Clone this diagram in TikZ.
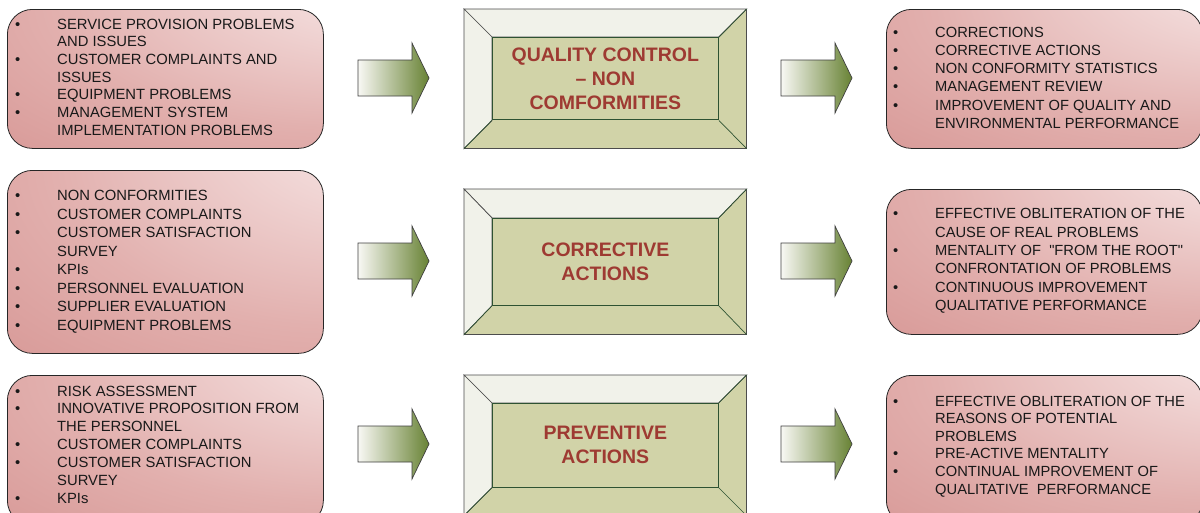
\documentclass[tikz,border=0pt]{standalone}
\usepackage{fontspec}
\setmainfont{Liberation Sans}[Ligatures=TeXOff]
\definecolor{pinkdark}{RGB}{210,140,138}
\definecolor{pinkmid}{RGB}{226,176,174}
\definecolor{pinklight}{RGB}{253,246,246}
\definecolor{khaki}{RGB}{209,211,168}
\definecolor{bevellight}{RGB}{241,242,234}
\definecolor{innergreen}{RGB}{46,82,50}
\definecolor{titlered}{RGB}{158,58,50}
\definecolor{arrowgreen}{RGB}{104,130,52}
\definecolor{arrowlight}{RGB}{248,248,244}
\pgfdeclareradialshading{pinkshade}{\pgfpoint{42bp}{42bp}}{color(0bp)=(pinklight); color(12bp)=(pinklight!70!pinkmid); color(45bp)=(pinkmid); color(80bp)=(pinkdark); color(130bp)=(pinkdark)}
\newcommand{\itembul}{\leavevmode\llap{\textbullet\hspace{37pt}}}
\tikzset{
  listbox/.style={draw=black!85, line width=0.8pt, rounded corners=25pt, shade, shading=pinkshade, anchor=north west, inner sep=0pt},
  listtext/.style={anchor=north west, inner sep=0pt, align=left, text=black!90},
  bevelout/.style={draw=black!70, line width=0.7pt, fill=khaki, anchor=north west, inner sep=0pt},
  lightface/.style={fill=bevellight, draw=black!70, line width=0.7pt},
  diag/.style={draw=innergreen, line width=0.7pt},
  bevelin/.style={draw=innergreen, line width=1.2pt, fill=khaki, inner sep=0pt, align=center, font=\bfseries\fontsize{19.5}{24}\selectfont, text=titlered},
  blockarrow/.style={draw=black!75, line width=0.7pt, left color=arrowlight, middle color=arrowgreen!45!arrowlight, right color=arrowgreen},
  blockarr/.pic={\path[blockarrow] (0,-18) -- (54,-18) -- (54,-35) -- (71,0) -- (54,35) -- (54,18) -- (0,18) -- cycle;}
}
\begin{document}
\begin{tikzpicture}[x=1pt,y=-1pt]
\useasboundingbox (0,0) rectangle (1200,512);
\clip (0,0) rectangle (1200,512);
\fill[white] (0,0) rectangle (1200,512);

% ---------- left boxes ----------
\node[listbox, minimum width=316, minimum height=139] (L1) at (7,9) {};
\node[listtext, font=\fontsize{14.8}{17.67}\selectfont] (L1t) at (57,18.7) {\itembul SERVICE PROVISION PROBLEMS\\AND ISSUES\\\itembul CUSTOMER COMPLAINTS AND\\ISSUES\\\itembul EQUIPMENT PROBLEMS\\\itembul MANAGEMENT SYSTEM\\IMPLEMENTATION PROBLEMS};

\node[listbox, minimum width=316, minimum height=183] (L2) at (7,170) {};
\node[listtext, font=\fontsize{14.8}{18.53}\selectfont] (L2t) at (57,190.0) {\itembul NON CONFORMITIES\\\itembul CUSTOMER COMPLAINTS\\\itembul CUSTOMER SATISFACTION\\SURVEY\\\itembul KPIs\\\itembul PERSONNEL EVALUATION\\\itembul SUPPLIER EVALUATION\\\itembul EQUIPMENT PROBLEMS};

\node[listbox, minimum width=316, minimum height=150] (L3) at (7,375) {};
\node[listtext, font=\fontsize{14.8}{17.9}\selectfont] (L3t) at (57,385.5) {\itembul RISK ASSESSMENT\\\itembul INNOVATIVE PROPOSITION FROM\\THE PERSONNEL\\\itembul CUSTOMER COMPLAINTS\\\itembul CUSTOMER SATISFACTION\\SURVEY\\\itembul KPIs};

% ---------- right boxes ----------
\node[listbox, minimum width=316, minimum height=139] (R1) at (886,9) {};
\node[listtext, font=\fontsize{14.7}{18.2}\selectfont] (R1t) at (935,26.9) {\itembul CORRECTIONS\\\itembul CORRECTIVE ACTIONS\\\itembul NON CONFORMITY STATISTICS\\\itembul MANAGEMENT REVIEW\\\itembul IMPROVEMENT OF QUALITY AND\\ENVIRONMENTAL PERFORMANCE};

\node[listbox, minimum width=316, minimum height=145] (R2) at (886,189) {};
\node[listtext, font=\fontsize{14.7}{18.33}\selectfont] (R2t) at (935,208.5) {\itembul EFFECTIVE OBLITERATION OF THE\\CAUSE OF REAL PROBLEMS\\\itembul MENTALITY OF\ \ "FROM THE ROOT"\\CONFRONTATION OF PROBLEMS\\\itembul CONTINUOUS IMPROVEMENT\\QUALITATIVE PERFORMANCE};

\node[listbox, minimum width=316, minimum height=150] (R3) at (886,375) {};
\node[listtext, font=\fontsize{14.7}{17.53}\selectfont] (R3t) at (935,395.9) {\itembul EFFECTIVE OBLITERATION OF THE\\REASONS OF POTENTIAL\\PROBLEMS\\\itembul PRE-ACTIVE MENTALITY\\\itembul CONTINUAL IMPROVEMENT OF\\QUALITATIVE\ \ PERFORMANCE};

% ---------- centre bevelled boxes ----------
% row 1
\node[bevelout, minimum width=282, minimum height=139] (C1o) at (464,9) {};
\path[lightface] (C1o.north west) -- (C1o.north east) -- ([shift={(-28,28)}]C1o.north east) -- ([shift={(28,28)}]C1o.north west) -- cycle;
\path[lightface] (C1o.north west) -- ([shift={(28,28)}]C1o.north west) -- ([shift={(28,-28)}]C1o.south west) -- (C1o.south west) -- cycle;
\node[bevelin, minimum width=226, minimum height=82] (C1) at (C1o.center) {QUALITY CONTROL\\– NON\\COMFORMITIES};
\draw[diag] (C1o.north east) -- (C1.north east);
\draw[diag] (C1o.south east) -- (C1.south east);
\draw[diag] (C1o.south west) -- (C1.south west);

% row 2
\node[bevelout, minimum width=282, minimum height=145] (C2o) at (464,189) {};
\path[lightface] (C2o.north west) -- (C2o.north east) -- ([shift={(-28,29)}]C2o.north east) -- ([shift={(28,29)}]C2o.north west) -- cycle;
\path[lightface] (C2o.north west) -- ([shift={(28,29)}]C2o.north west) -- ([shift={(28,-29)}]C2o.south west) -- (C2o.south west) -- cycle;
\node[bevelin, minimum width=226, minimum height=87] (C2) at (C2o.center) {CORRECTIVE\\ACTIONS};
\draw[diag] (C2o.north east) -- (C2.north east);
\draw[diag] (C2o.south east) -- (C2.south east);
\draw[diag] (C2o.south west) -- (C2.south west);

% row 3
\node[bevelout, minimum width=282, minimum height=140] (C3o) at (464,375) {};
\path[lightface] (C3o.north west) -- (C3o.north east) -- ([shift={(-28,28)}]C3o.north east) -- ([shift={(28,28)}]C3o.north west) -- cycle;
\path[lightface] (C3o.north west) -- ([shift={(28,28)}]C3o.north west) -- ([shift={(28,-28)}]C3o.south west) -- (C3o.south west) -- cycle;
\node[bevelin, minimum width=226, minimum height=84] (C3) at (C3o.center) {PREVENTIVE\\ACTIONS};
\draw[diag] (C3o.north east) -- (C3.north east);
\draw[diag] (C3o.south east) -- (C3.south east);
\draw[diag] (C3o.south west) -- (C3.south west);

% ---------- block arrows ----------
\pic at (358,78) {blockarr};
\pic at (781,78) {blockarr};
\pic at (358,261) {blockarr};
\pic at (781,261) {blockarr};
\pic at (358,444) {blockarr};
\pic at (781,444) {blockarr};
\end{tikzpicture}
\end{document}
